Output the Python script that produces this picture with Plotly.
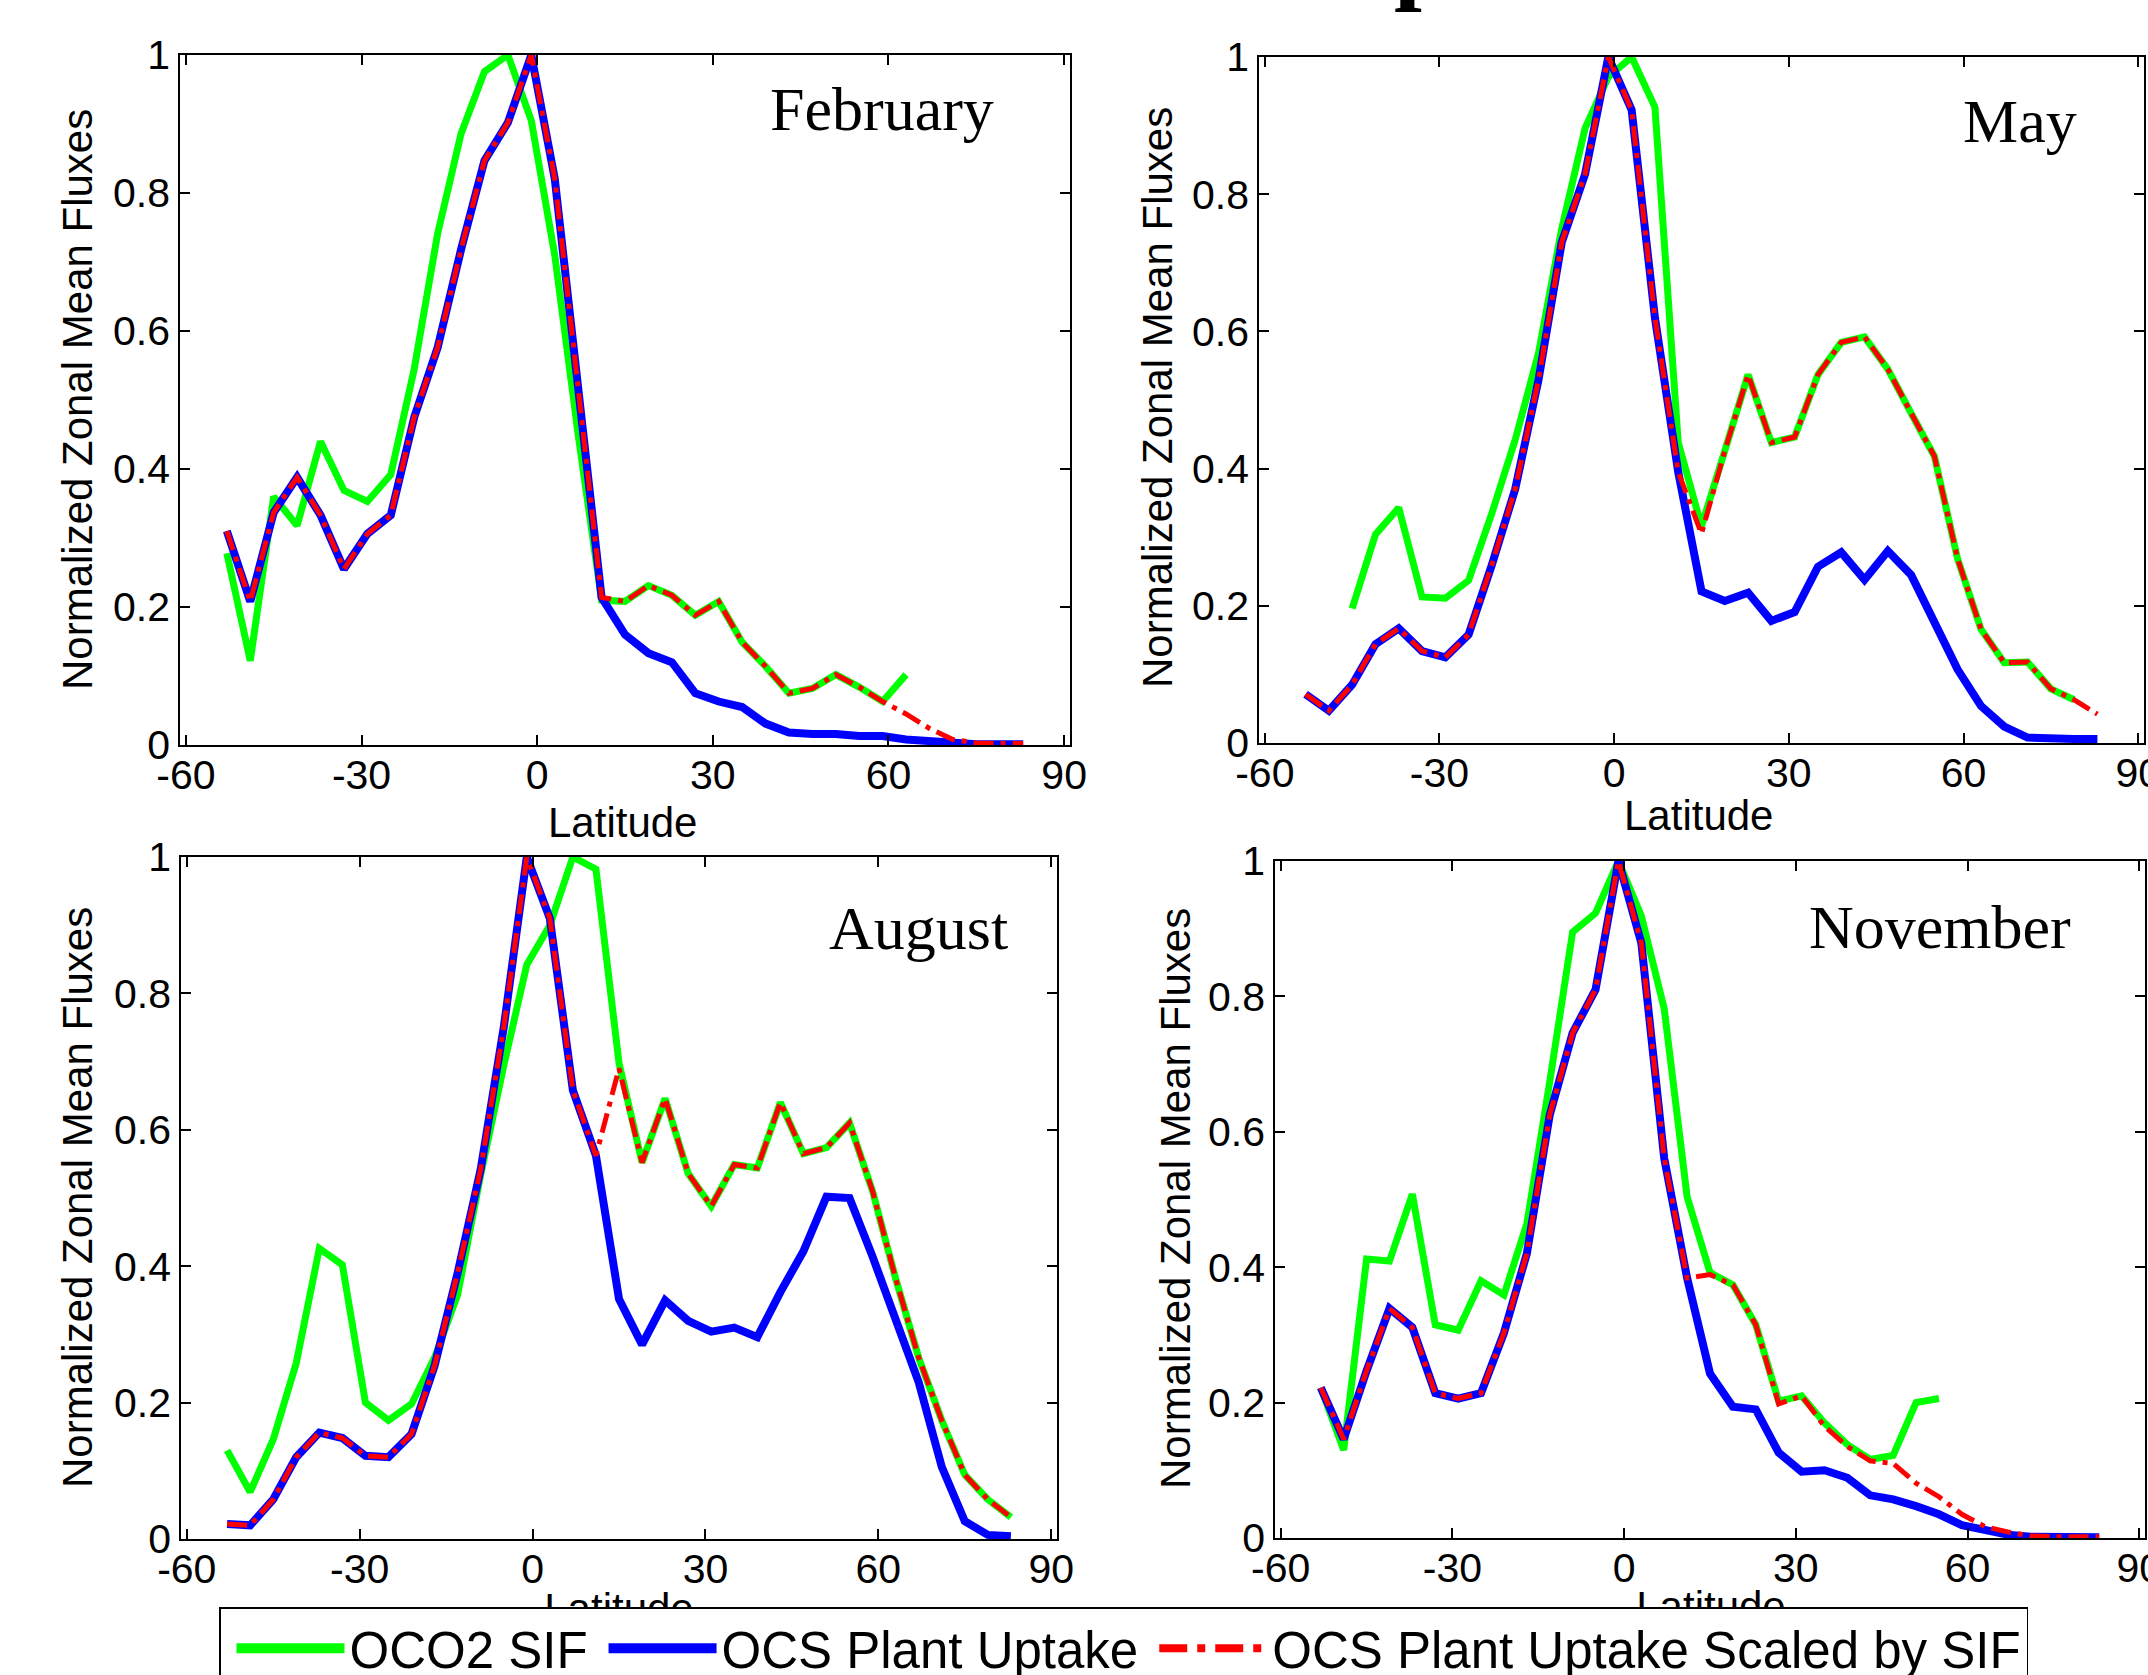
import plotly.graph_objects as go

# ---------------- data ----------------
lat = [-53, -49, -45, -41, -37, -33, -29, -25, -21, -17, -13, -9, -5, -1, 3, 7, 11,
       15, 19, 23, 27, 31, 35, 39, 43, 47, 51, 55, 59, 63, 67, 71, 75, 79, 83]

N = None

feb_sif = [0.278, 0.122, 0.360, 0.318, 0.440, 0.369, 0.353, 0.392, 0.545, 0.741, 0.886, 0.976,
           1.000, 0.905, 0.710, 0.450, 0.210, 0.208, 0.231, 0.217, 0.188, 0.208, 0.149, 0.114,
           0.075, 0.082, 0.102, 0.084, 0.063, 0.102, N, N, N, N, N]
feb_ocs = [0.310, 0.208, 0.337, 0.388, 0.333, 0.255, 0.306, 0.333, 0.475, 0.576, 0.718, 0.847,
           0.902, 1.000, 0.821, 0.522, 0.214, 0.160, 0.133, 0.120, 0.075, 0.063, 0.055, 0.031,
           0.018, 0.016, 0.016, 0.013, 0.013, 0.008, 0.005, 0.002, 0.001, 0.001, 0.001]
feb_scaled = [0.310, 0.208, 0.337, 0.388, 0.333, 0.255, 0.306, 0.333, 0.475, 0.576, 0.718, 0.847,
              0.902, 1.000, 0.821, 0.522, 0.214, 0.208, 0.231, 0.217, 0.188, 0.208, 0.149, 0.114,
              0.075, 0.082, 0.102, 0.084, 0.063, 0.045, 0.024, 0.008, 0.003, 0.002, 0.002]

may_sif = [N, N, 0.196, 0.304, 0.343, 0.213, 0.211, 0.237, 0.335, 0.442, 0.568, 0.750,
           0.896, 0.971, 1.000, 0.927, 0.438, 0.316, 0.426, 0.537, 0.438, 0.446, 0.537, 0.584,
           0.592, 0.545, 0.481, 0.418, 0.268, 0.166, 0.117, 0.118, 0.079, 0.063, N]
may_ocs = [0.071, 0.047, 0.085, 0.144, 0.167, 0.134, 0.125, 0.158, 0.260, 0.370, 0.529, 0.730,
           0.829, 1.000, 0.923, 0.620, 0.395, 0.221, 0.207, 0.219, 0.178, 0.191, 0.257, 0.278,
           0.238, 0.280, 0.245, 0.178, 0.107, 0.054, 0.024, 0.008, 0.006, 0.006, 0.006]
may_scaled = [0.071, 0.047, 0.085, 0.144, 0.167, 0.134, 0.125, 0.158, 0.260, 0.370, 0.529, 0.730,
              0.829, 1.000, 0.923, 0.620, 0.395, 0.305, 0.426, 0.537, 0.438, 0.446, 0.537, 0.584,
              0.592, 0.545, 0.481, 0.418, 0.268, 0.166, 0.117, 0.118, 0.079, 0.063, 0.042]

aug_sif = [0.130, 0.069, 0.146, 0.258, 0.426, 0.402, 0.200, 0.174, 0.198, 0.266, 0.358, 0.534,
           0.694, 0.842, 0.900, 1.000, 0.982, 0.698, 0.552, 0.646, 0.536, 0.488, 0.549, 0.544,
           0.640, 0.565, 0.574, 0.610, 0.510, 0.382, 0.266, 0.174, 0.094, 0.058, 0.032]
aug_ocs = [0.022, 0.020, 0.058, 0.120, 0.156, 0.148, 0.122, 0.120, 0.154, 0.254, 0.390, 0.542,
           0.750, 1.000, 0.910, 0.658, 0.562, 0.352, 0.285, 0.350, 0.320, 0.304, 0.310, 0.296,
           0.362, 0.422, 0.502, 0.500, 0.414, 0.320, 0.230, 0.106, 0.026, 0.006, 0.004]
aug_scaled = [0.022, 0.020, 0.058, 0.120, 0.156, 0.148, 0.122, 0.120, 0.154, 0.254, 0.390, 0.542,
              0.750, 1.000, 0.910, 0.658, 0.562, 0.690, 0.552, 0.646, 0.536, 0.488, 0.549, 0.544,
              0.640, 0.565, 0.574, 0.610, 0.510, 0.382, 0.266, 0.174, 0.094, 0.058, 0.032]

nov_sif = [0.222, 0.130, 0.412, 0.409, 0.508, 0.315, 0.307, 0.380, 0.359, 0.464, 0.674, 0.895,
           0.923, 1.000, 0.919, 0.782, 0.504, 0.392, 0.374, 0.315, 0.202, 0.210, 0.170, 0.138,
           0.116, 0.122, 0.200, 0.206, N, N, N, N, N, N, N]
nov_ocs = [0.222, 0.146, 0.247, 0.339, 0.311, 0.214, 0.206, 0.214, 0.303, 0.420, 0.625, 0.746,
           0.810, 1.000, 0.879, 0.561, 0.384, 0.243, 0.194, 0.190, 0.126, 0.098, 0.100, 0.089,
           0.063, 0.057, 0.047, 0.035, 0.019, 0.011, 0.005, 0.002, 0.001, 0.001, 0.001]
nov_scaled = [0.222, 0.146, 0.247, 0.339, 0.311, 0.214, 0.206, 0.214, 0.303, 0.420, 0.625, 0.746,
              0.810, 1.000, 0.879, 0.561, 0.384, 0.389, 0.374, 0.315, 0.198, 0.210, 0.165, 0.135,
              0.114, 0.110, 0.081, 0.061, 0.035, 0.017, 0.009, 0.003, 0.002, 0.002, 0.002]

months = ["February", "May", "August", "November"]
series_names = ["OCO2 SIF", "OCS Plant Uptake", "OCS Plant Uptake Scaled by SIF"]
x_ticks = [-60, -30, 0, 30, 60, 90]
x_ticktext = ["-60", "-30", "0", "30", "60", "90"]
y_ticks = [0, 0.2, 0.4, 0.6, 0.8, 1]
y_ticktext = ["0", "0.2", "0.4", "0.6", "0.8", "1"]
x_title = "Latitude"
y_title = "Normalized Zonal Mean Fluxes"

# ---------------- layout helpers ----------------
W, H = 2148, 1675
XR = (-61, 91)
YR = (0, 1)


def px(x):
    return x / W


def py(y):
    return 1 - y / H


SANS = "Liberation Sans, Arial, Helvetica, sans-serif"
SERIF = "Liberation Serif, Times New Roman, serif"
GREEN, BLUE, RED = "#00FF00", "#0000FF", "#FF0000"
RED_DASH = "20px,7px,5px,7px"

panels = [
    dict(month=months[0], sif=feb_sif, ocs=feb_ocs, scaled=feb_scaled,
         xd=(180, 1070), yd=(55, 745), label=(996, 109), ytitle=(77, 400), xtitle=(622, 822)),
    dict(month=months[1], sif=may_sif, ocs=may_ocs, scaled=may_scaled,
         xd=(1259, 2144), yd=(57, 743), label=(2079, 121), ytitle=(1157, 398), xtitle=(1698, 815)),
    dict(month=months[2], sif=aug_sif, ocs=aug_ocs, scaled=aug_scaled,
         xd=(181, 1057), yd=(857, 1539), label=(1010, 928), ytitle=(77, 1198), xtitle=(619, 1612)),
    dict(month=months[3], sif=nov_sif, ocs=nov_ocs, scaled=nov_scaled,
         xd=(1275, 2145), yd=(861, 1538), label=(2073, 927), ytitle=(1175, 1199), xtitle=(1711, 1610)),
]

fig = go.Figure()
layout = dict(
    width=W, height=H,
    margin=dict(l=0, r=0, t=0, b=0, pad=0, autoexpand=False),
    paper_bgcolor="white", plot_bgcolor="rgba(0,0,0,0)",
    showlegend=True,
    font=dict(family=SANS, color="black"),
)
annotations = []
bottom_titles = []

for i, p in enumerate(panels, start=1):
    xa = "x" if i == 1 else f"x{i}"
    ya = "y" if i == 1 else f"y{i}"
    fig.add_trace(go.Scatter(x=lat, y=p["sif"], mode="lines", xaxis=xa, yaxis=ya,
                             line=dict(color=GREEN, width=7), showlegend=False,
                             name=series_names[0], connectgaps=False))
    fig.add_trace(go.Scatter(x=lat, y=p["ocs"], mode="lines", xaxis=xa, yaxis=ya,
                             line=dict(color=BLUE, width=8), showlegend=False,
                             name=series_names[1]))
    fig.add_trace(go.Scatter(x=lat, y=p["scaled"], mode="lines", xaxis=xa, yaxis=ya,
                             line=dict(color=RED, width=5, dash=RED_DASH), showlegend=False,
                             name=series_names[2]))

    xkey = "xaxis" if i == 1 else f"xaxis{i}"
    ykey = "yaxis" if i == 1 else f"yaxis{i}"
    common = dict(showline=True, linecolor="black", linewidth=1.5, mirror="ticks",
                  ticks="inside", ticklen=10, tickwidth=1.5, tickcolor="black",
                  showgrid=False, zeroline=False,
                  tickfont=dict(family=SANS, size=41, color="black"))
    layout[xkey] = dict(domain=[px(p["xd"][0]), px(p["xd"][1])], range=list(XR),
                        tickmode="array", tickvals=x_ticks, ticktext=x_ticktext,
                        ticklabeloverflow="allow", ticklabelstandoff=-7,
                        anchor=ya, **common)
    layout[ykey] = dict(domain=[py(p["yd"][1]), py(p["yd"][0])], range=list(YR),
                        tickmode="array", tickvals=y_ticks, ticktext=y_ticktext,
                        anchor=xa, **common)

    annotations.append(dict(text=p["month"], x=px(p["label"][0]), y=py(p["label"][1]),
                            xref="paper", yref="paper", xanchor="right", yanchor="middle",
                            showarrow=False, font=dict(family=SERIF, size=62, color="black")))
    annotations.append(dict(text=y_title, x=px(p["ytitle"][0]), y=py(p["ytitle"][1]),
                            xref="paper", yref="paper", xanchor="center", yanchor="middle",
                            textangle=-90, showarrow=False,
                            font=dict(family=SANS, size=42, color="black")))
    if i <= 2:
        annotations.append(dict(text=x_title, x=px(p["xtitle"][0]), y=py(p["xtitle"][1]),
                                xref="paper", yref="paper", xanchor="center", yanchor="middle",
                                showarrow=False, font=dict(family=SANS, size=42, color="black")))
    else:
        bottom_titles.append(p["xtitle"])

# bottom-row axis titles lie partly under the legend box, so they are drawn in the
# plot layer (below the legend) on a hidden full-page subplot measured in pixels
fig.add_trace(go.Scatter(x=[t[0] for t in bottom_titles], y=[t[1] for t in bottom_titles],
                         mode="text", text=[x_title] * len(bottom_titles),
                         textposition="middle center",
                         textfont=dict(family=SANS, size=42, color="black"),
                         xaxis="x5", yaxis="y5", showlegend=False, hoverinfo="skip"))
layout["xaxis5"] = dict(domain=[0, 1], range=[0, W], visible=False, anchor="y5",
                        fixedrange=True)
layout["yaxis5"] = dict(domain=[0, 1], range=[H, 0], visible=False, anchor="x5",
                        fixedrange=True)

# cropped remnant of the overall figure title at the very top edge
annotations.append(dict(text="<b>p</b>", x=px(1392), y=py(15), xref="paper", yref="paper",
                        xanchor="left", yanchor="bottom", showarrow=False,
                        font=dict(family=SERIF, size=100, color="black")))

# legend entries (shared across panels)
fig.add_trace(go.Scatter(x=[None], y=[None], mode="lines", name=series_names[0],
                         line=dict(color=GREEN, width=10)))
fig.add_trace(go.Scatter(x=[None], y=[None], mode="lines", name=series_names[1],
                         line=dict(color=BLUE, width=10)))
fig.add_trace(go.Scatter(x=[None], y=[None], mode="lines", name=series_names[2],
                         line=dict(color=RED, width=8, dash="28px,10px,8px,10px")))

layout["legend"] = dict(orientation="h", x=px(219), y=py(1607), xanchor="left", yanchor="top",
                        bgcolor="white", bordercolor="black", borderwidth=1.5,
                        font=dict(family=SANS, size=51, color="black"),
                        itemwidth=108, tracegroupgap=0, traceorder="normal",
                        indentation=11)
layout["annotations"] = annotations
fig.update_layout(**layout)

fig.write_html("out.html")
